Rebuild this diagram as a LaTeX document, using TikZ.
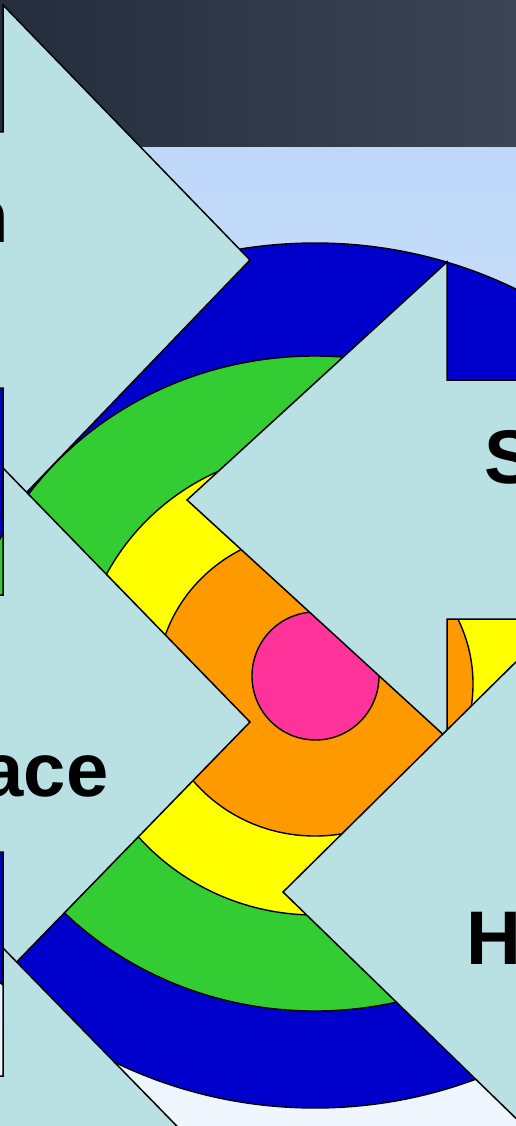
\documentclass[tikz,border=0pt]{standalone}
\usepackage{fontspec}
\setmainfont{Liberation Sans}

\definecolor{headerleft}{RGB}{36,45,61}
\definecolor{headerright}{RGB}{59,69,86}
\definecolor{skytop}{RGB}{190,216,250}
\definecolor{skybottom}{RGB}{240,246,253}
\definecolor{arrowcyan}{RGB}{185,224,227}
\definecolor{ringblue}{RGB}{0,0,204}
\definecolor{ringgreen}{RGB}{51,204,51}
\definecolor{ringyellow}{RGB}{255,255,0}
\definecolor{ringorange}{RGB}{255,153,0}
\definecolor{ringpink}{RGB}{255,51,153}

\begin{document}
\begin{tikzpicture}[
    x=1pt, y=-1pt,
    ring/.style={draw=black, line width=1.4pt},
    blockarrow/.style={draw=black, line width=1.5pt, fill=arrowcyan, line join=miter},
    word/.style={inner sep=0pt, font=\bfseries\fontsize{76}{76}\selectfont}
]

\useasboundingbox (0,0) rectangle (516,1126);
\clip (0,0) rectangle (516,1126);

% Slide background
\fill[left color=headerleft, right color=headerright] (0,0) rectangle (516,148);
\fill[top color=skytop, bottom color=skybottom] (0,148) rectangle (516,1126);

% Target rings
\draw[ring, fill=ringblue]   (315,675.5) ellipse [x radius=447pt, y radius=432.5pt];
\draw[ring, fill=ringgreen]  (315,683.5) ellipse [x radius=351pt, y radius=327.5pt];
\draw[ring, fill=ringyellow] (315,683)   ellipse [x radius=236pt, y radius=232pt];
\draw[ring, fill=ringorange] (315,684)   ellipse [x radius=158pt, y radius=152pt];
\draw[ring, fill=ringpink]   (315.5,676) ellipse [x radius=63.5pt, y radius=64pt];

% Arrows from the left
\draw[blockarrow] (-40,132) -- (3,132) -- (3,5) -- (250,260) -- (3,517) -- (3,388) -- (-40,388) -- cycle;
\draw[blockarrow] (-40,595) -- (3,595) -- (3,468) -- (250,722) -- (3,976) -- (3,852) -- (-40,852) -- cycle;
\draw[blockarrow] (-40,1076) -- (3,1076) -- (3,948) -- (250,1201) -- (3,1454) -- (3,1330) -- (-40,1330) -- cycle;

% Arrows from the right
\draw[blockarrow] (560,380) -- (447,380) -- (447,262) -- (187,500) -- (447,738) -- (447,619) -- (560,619) -- cycle;
\draw[blockarrow] (600,770) -- (530,770) -- (530,648) -- (283,892) -- (530,1132) -- (530,1010) -- (600,1010) -- cycle;

% Labels
\node[word, anchor=base east] (lbln)   at (9,242)   {n};
\node[word, anchor=base east] (lblace) at (108.5,796) {ace};
\node[word, anchor=base west] (lbls)   at (484,483) {S};
\node[word, anchor=base west] (lblh)   at (466.5,964) {H};

\end{tikzpicture}
\end{document}
